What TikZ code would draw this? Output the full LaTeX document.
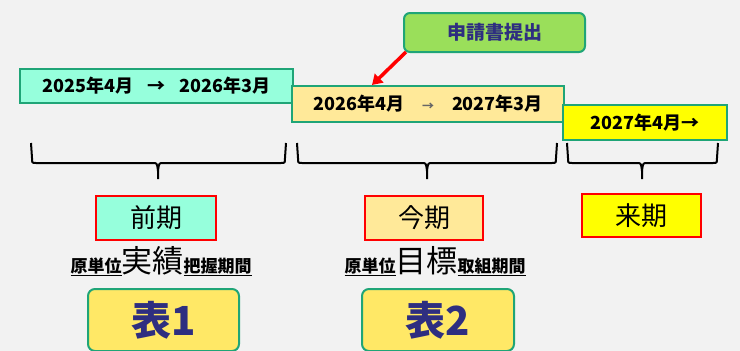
\documentclass[tikz,border=0pt]{standalone}
\usepackage{fontspec}
\setmainfont{Noto Sans CJK JP}
\usetikzlibrary{arrows.meta}
\definecolor{bg}{HTML}{F2F2F2}
\definecolor{teal}{HTML}{96FFDC}
\definecolor{gborder}{HTML}{1FA577}
\definecolor{lyellow}{HTML}{FFE999}
\definecolor{byellow}{HTML}{FFFF00}
\definecolor{callg}{HTML}{9ADF5A}
\definecolor{tyellow}{HTML}{FFE866}
\definecolor{navy}{HTML}{2E2E80}
\tikzset{
  datebox/.style={draw=gborder, line width=2pt, inner sep=0pt, font=\fontsize{18}{18}\selectfont\bfseries},
  termbox/.style={draw=red, line width=2pt, inner sep=0pt, font=\fontsize{26}{26}\selectfont},
  tablebox/.style={draw=gborder, line width=2pt, rounded corners=7pt, fill=tyellow, inner sep=0pt, text=navy, font=\fontsize{40}{40}\selectfont\bfseries},
  bracepath/.style={draw=black, line width=2pt, line join=round},
}
\newcommand{\smallu}[1]{{\fontsize{17}{17}\selectfont\bfseries\underline{#1}}}
\newcommand{\bigt}[1]{{\fontsize{31}{31}\selectfont #1}}
\begin{document}
\begin{tikzpicture}[x=1pt,y=-1pt]
\fill[bg] (0,0) rectangle (740,351);
\useasboundingbox (0,0) rectangle (740,351);
% date boxes
\node[datebox, fill=teal, minimum width=273pt, minimum height=34pt] (d1) at (156.5,86) {2025年4月\hspace{0.8em}→\hspace{0.8em}2026年3月};
\node[datebox, fill=lyellow, minimum width=272pt, minimum height=36pt] (d2) at (428,104) {2026年4月\hspace{1em}{\color{black!60}\fontsize{12}{12}\selectfont →}\hspace{1em}2027年3月};
\node[datebox, fill=byellow, minimum width=164pt, minimum height=35pt] (d3) at (645,122.5) {2027年4月→};
% callout
\node[draw=gborder, line width=2pt, fill=callg, rounded corners=6pt, minimum width=181pt, minimum height=39pt, inner sep=0pt, text=navy, font=\fontsize{19}{19}\selectfont\bfseries] (app) at (494.5,32.5) {申請書提出};
\coordinate (arrtip) at (372,85);
\draw[red, line width=3.5pt, -{Triangle[length=10pt,width=12pt]}] (app.south west) ++(3,-1) -- (arrtip);
% braces
\coordinate (b1l) at (31,143); \coordinate (b1r) at (286,143); \coordinate (b1t) at (158,179);
\coordinate (b2l) at (297,143); \coordinate (b2r) at (557,143); \coordinate (b2t) at (427,179);
\coordinate (b3l) at (567,143); \coordinate (b3r) at (718,143); \coordinate (b3t) at (642,179);
\foreach \l/\r/\t in {b1l/b1r/b1t, b2l/b2r/b2t, b3l/b3r/b3t}{
  \draw[bracepath] (\l) -- ([xshift=1pt,yshift=-15pt]\l) .. controls ([xshift=1pt,yshift=-20pt]\l) .. ([xshift=5pt,yshift=-20pt]\l)
     -- ([xshift=-5pt,yshift=16pt]\t) .. controls ([xshift=-1pt,yshift=16pt]\t) .. ([yshift=8pt]\t) -- (\t);
  \draw[bracepath] (\r) -- ([xshift=-1pt,yshift=-15pt]\r) .. controls ([xshift=-1pt,yshift=-20pt]\r) .. ([xshift=-5pt,yshift=-20pt]\r)
     -- ([xshift=5pt,yshift=16pt]\t) .. controls ([xshift=1pt,yshift=16pt]\t) .. ([yshift=8pt]\t);
}
% term boxes
\node[termbox, fill=teal, minimum width=120pt, minimum height=44pt] (t1) at (156,218) {前期};
\node[termbox, fill=lyellow, minimum width=118pt, minimum height=44pt] (t2) at (424,218) {今期};
\node[termbox, fill=byellow, minimum width=119pt, minimum height=43pt] (t3) at (641.5,215.5) {来期};
% text lines
\node[anchor=base, inner sep=0pt] (l1) at (161,272) {\smallu{原単位}\bigt{実績}\smallu{把握期間}};
\node[anchor=base, inner sep=0pt] (l2) at (435,272) {\smallu{原単位}\bigt{目標}\smallu{取組期間}};
% table boxes
\node[tablebox, minimum width=151pt, minimum height=62pt] (tb1) at (163.5,320) {表1};
\node[tablebox, minimum width=152pt, minimum height=62pt] (tb2) at (438,320) {表2};
\end{tikzpicture}
\end{document}
